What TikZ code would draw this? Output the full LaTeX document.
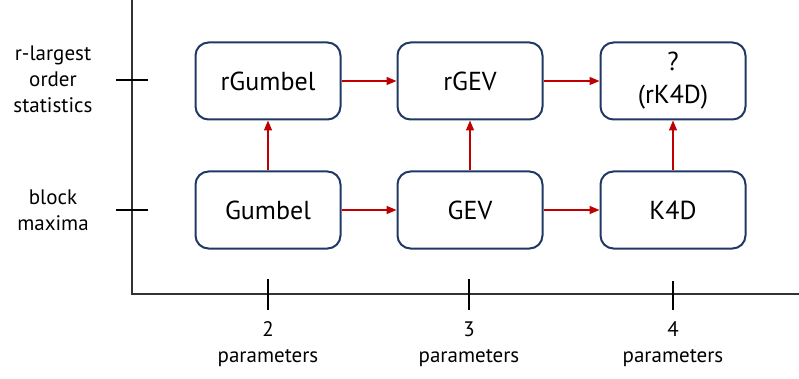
\documentclass[tikz,border=0pt]{standalone}
\usepackage{fontspec}
\setmainfont{PT Sans}
\usetikzlibrary{arrows.meta}
\definecolor{boxblue}{HTML}{1F3864}
\definecolor{arrowred}{HTML}{C00000}

\begin{document}
\begin{tikzpicture}[x=1pt,y=-1pt]
    \tikzset{every node/.style={font=\fontsize{21}{26}\selectfont,align=center}}
    \tikzset{model/.style={draw=boxblue,line width=2pt,rounded corners=13pt,minimum width=145pt,minimum height=77pt,inner sep=0pt,font=\fontsize{26}{33}\selectfont}}
    \tikzset{edge/.style={arrowred,line width=1.4pt}}
    \tikzset{axis/.style={line width=1.6pt,black!80}}
    \tikzset{tick/.style={line width=2pt}}

    \useasboundingbox (0,0) rectangle (799,379);

    % axes
    \coordinate (top) at (132, 0);
    \coordinate (origin) at (132, 294);
    \coordinate (right) at (799, 294);
    \draw[axis] (top) -- (origin) -- (right);

    \draw[tick] (116, 80) -- (148, 80);
    \draw[tick] (116, 210) -- (148, 210);
    \draw[tick] (268, 279) -- (268, 310);
    \draw[tick] (469, 279) -- (469, 310);
    \draw[tick] (673, 281) -- (673, 310);

    % axis labels
    \node (rlabel) at (53, 79) {r-largest\\order\\statistics};
    \node (blabel) at (53, 210) {block\\maxima};
    \node (p2) at (268, 344) {2\\parameters};
    \node (p3) at (469, 344) {3\\parameters};
    \node (p4) at (673, 344) {4\\parameters};

    % models
    \node[model] (r2) at (268, 81) {rGumbel};
    \node[model] (r3) at (470, 81) {rGEV};
    \node[model] (r4) at (673, 81) {?\\(rK4D)};

    \node[model] (b2) at (268, 210) {Gumbel};
    \node[model] (b3) at (470, 210) {GEV};
    \node[model] (b4) at (673, 210) {K4D};

    \begin{scope}[every path/.style={-{Triangle[length=10pt,width=8pt]}}]
       \draw[edge] (r2) -- (r3);
       \draw[edge] (r3) -- (r4);
       \draw[edge] (b2) -- (b3);
       \draw[edge] (b3) -- (b4);

       \draw[edge] (b2) -- (r2);
       \draw[edge] (b3) -- (r3);
       \draw[edge] (b4) -- (r4);
    \end{scope}
\end{tikzpicture}
\end{document}
